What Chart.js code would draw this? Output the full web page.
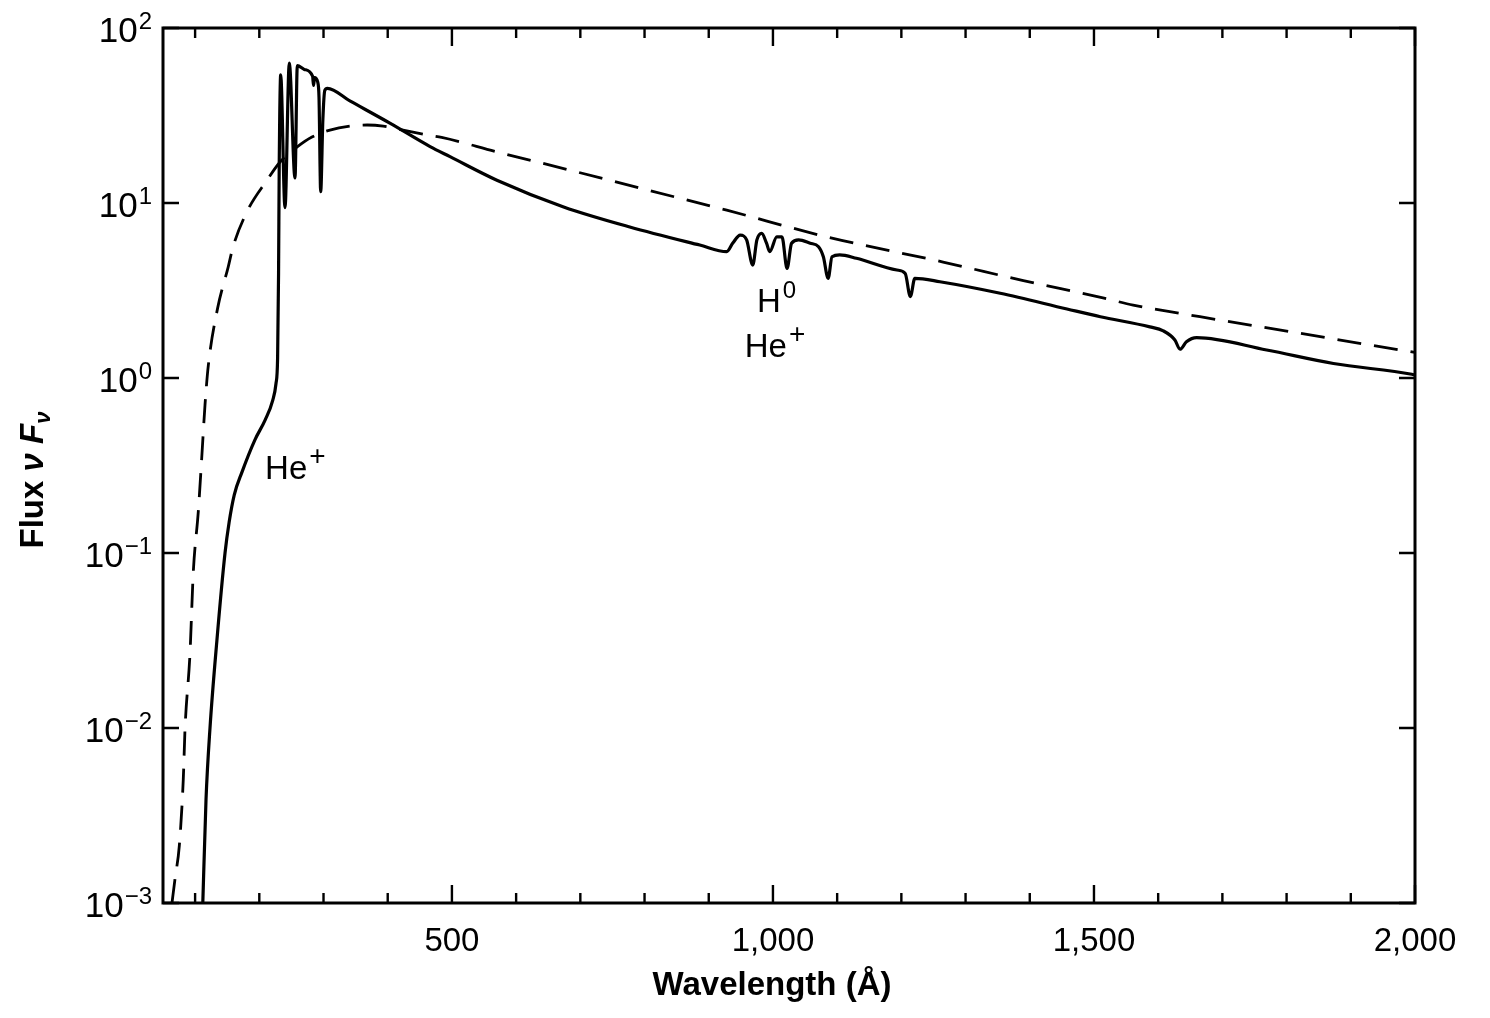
<!DOCTYPE html>
<html>
<head>
<meta charset="utf-8">
<script src="https://cdn.jsdelivr.net/npm/chart.js@4.4.0/dist/chart.umd.min.js"></script>
<style>
  html, body { margin: 0; padding: 0; background: #fff; }
  canvas { display: block; }
</style>
</head>
<body>
<canvas id="fluxChart" width="1490" height="1018"></canvas>
<script>
// emergent spectrum (solid)
const solidWavelength = [112, 117, 123.2, 134, 146.6, 153, 161, 173, 193, 209, 221, 226, 228.5, 230, 231, 233.3, 240, 246.7,
  255.6, 259.2, 270, 283, 284.5, 286, 291, 293, 295.6, 299, 302, 306, 341, 404, 466, 497, 570, 674, 777, 886, 928,
  937.5, 949, 959, 968.5, 975, 982.5, 990, 995, 1006, 1014, 1022, 1029, 1040, 1058, 1071, 1078.5, 1086, 1092, 1104,
  1130, 1193, 1206, 1214, 1221, 1260, 1354, 1458, 1510, 1587, 1608, 1626, 1634, 1644, 1660, 1769, 1873, 1995, 2000];
const solidFlux = [0.001, 0.0039, 0.01, 0.0318, 0.1, 0.15, 0.215, 0.29, 0.442, 0.575, 0.748, 0.93, 1.3, 4, 16, 54, 9.4, 63,
  13.9, 61, 58, 53, 47, 52, 49, 40, 11.6, 30, 44, 45.2, 38.3, 28.5, 21.0, 18.4, 13.5, 9.5, 7.3, 5.75, 5.27,
  5.9, 6.56, 6.15, 4.42, 6.15, 6.71, 5.89, 5.27, 6.41, 6.41, 4.23, 5.89, 6.15, 5.89, 5.63, 4.93, 3.71, 4.93, 5.05,
  4.83, 4.14, 3.96, 2.92, 3.71, 3.55, 3.05, 2.48, 2.24, 1.96, 1.86, 1.65, 1.46, 1.61, 1.70, 1.445, 1.21, 1.05, 1.04];

// blackbody (dashed)
const dashedWavelength = [64, 69, 75.4, 81.6, 84.3, 92, 97.2, 105, 110.3, 115.4, 120.6, 135, 151.7, 159, 182, 212, 232, 259,
  282, 310, 341, 368, 393, 424, 461, 484, 570, 684, 803, 928, 1084, 1265, 1390, 1514, 1561, 1665, 1821, 1977, 2000];
const dashedFlux = [0.001, 0.0014, 0.00212, 0.0051, 0.0099, 0.0265, 0.078, 0.173, 0.348, 0.70, 1.18, 2.5, 4.33, 5.6, 9.1, 13.5, 17.1, 20.9,
  23.8, 26.1, 27.5, 27.9, 27.5, 26.1, 24.5, 23.7, 19.6, 15.4, 11.9, 9.1, 6.4, 4.6, 3.6, 2.87, 2.61, 2.24, 1.80, 1.445, 1.40];

const xTicks = [100, 200, 300, 400, 500, 600, 700, 800, 900, 1000, 1100, 1200, 1300, 1400, 1500, 1600, 1700, 1800, 1900, 2000];
const xTickLabels = { 500: '500', 1000: '1,000', 1500: '1,500', 2000: '2,000' };
const yTicks = [0.001, 0.01, 0.1, 1, 10, 100];
const yTickExponents = ['\u22123', '\u22122', '\u22121', '0', '1', '2'];

// text labels on the plot: [wavelength, flux, base, superscript]
const annotations = [
  [209, 0.31, 'He', '+'],
  [975, 2.79, 'H', '0'],
  [956, 1.55, 'He', '+'],
];

const FONT = '"Liberation Sans", Arial, Helvetica, sans-serif';

const toPoints = (xs, ys) => xs.map((x, i) => ({ x: x, y: ys[i] }));

// frame, inward ticks, log labels with superscripts, titles, annotations
const decorations = {
  id: 'decorations',
  afterDraw(chart) {
    const { ctx, chartArea: a, scales: { x, y } } = chart;
    ctx.save();
    ctx.strokeStyle = '#000';
    ctx.fillStyle = '#000';

    ctx.lineWidth = 3;
    ctx.strokeRect(a.left, a.top, a.right - a.left, a.bottom - a.top);

    ctx.lineWidth = 2.4;
    ctx.beginPath();
    xTicks.forEach(v => {
      const px = x.getPixelForValue(v);
      const len = v % 500 === 0 ? 18 : 10;
      ctx.moveTo(px, a.bottom); ctx.lineTo(px, a.bottom - len);
      ctx.moveTo(px, a.top); ctx.lineTo(px, a.top + len);
    });
    yTicks.forEach(v => {
      const py = y.getPixelForValue(v);
      ctx.moveTo(a.left, py); ctx.lineTo(a.left + 16, py);
      ctx.moveTo(a.right, py); ctx.lineTo(a.right - 16, py);
    });
    ctx.stroke();

    // y tick labels 10^n
    ctx.textBaseline = 'alphabetic';
    ctx.textAlign = 'left';
    yTicks.forEach((v, i) => {
      const py = y.getPixelForValue(v);
      ctx.font = '24px ' + FONT;
      const ew = ctx.measureText(yTickExponents[i]).width;
      ctx.font = '35px ' + FONT;
      const bw = ctx.measureText('10').width;
      const right = 152;
      ctx.fillText('10', right - ew - bw - 1, py + 14);
      ctx.font = '24px ' + FONT;
      ctx.fillText(yTickExponents[i], right - ew, py + 1);
    });

    // x axis title
    ctx.font = 'bold 33px ' + FONT;
    ctx.textAlign = 'center';
    ctx.fillText('Wavelength (\u00c5)', 772, 995);
    ctx.textAlign = 'left';

    // y axis title
    const parts = [
      ['Flux ', 'bold 33px ' + FONT, 0],
      ['\u03bd', 'italic bold 33px ' + FONT, 0],
      [' ', 'bold 33px ' + FONT, 0],
      ['F', 'italic bold 33px ' + FONT, 0],
      ['\u03bd', 'italic bold 22px ' + FONT, 7],
    ];
    let total = 0;
    parts.forEach(p => { ctx.font = p[1]; total += ctx.measureText(p[0]).width; });
    ctx.translate(31, 480);
    ctx.rotate(-Math.PI / 2);
    let cx = -total / 2;
    parts.forEach(p => {
      ctx.font = p[1];
      ctx.fillText(p[0], cx, 12 + p[2]);
      cx += ctx.measureText(p[0]).width;
    });
    ctx.setTransform(1, 0, 0, 1, 0, 0);

    // He+ / H0 labels
    annotations.forEach(([wl, f, base, sup]) => {
      const px = x.getPixelForValue(wl);
      const py = y.getPixelForValue(f);
      ctx.font = '33px ' + FONT;
      ctx.fillText(base, px, py + 12);
      const w = ctx.measureText(base).width;
      ctx.font = (sup === '+' ? '28px ' : '24px ') + FONT;
      ctx.fillText(sup, px + w + 2, py - 2);
    });
    ctx.restore();
  }
};

const ctx = document.getElementById('fluxChart').getContext('2d');
new Chart(ctx, {
  type: 'scatter',
  data: {
    datasets: [
      {
        label: 'Emergent flux',
        data: toPoints(solidWavelength, solidFlux),
        showLine: true,
        borderColor: '#000',
        borderWidth: 3.2,
        pointRadius: 0,
        cubicInterpolationMode: 'monotone',
      },
      {
        label: 'Blackbody',
        data: toPoints(dashedWavelength, dashedFlux),
        showLine: true,
        borderColor: '#000',
        borderWidth: 2.8,
        borderDash: [24, 13],
        pointRadius: 0,
        cubicInterpolationMode: 'monotone',
      },
    ],
  },
  options: {
    responsive: false,
    animation: false,
    layout: { padding: { left: 0, right: 75, top: 28, bottom: 0 } },
    plugins: {
      legend: { display: false },
      tooltip: { enabled: false },
    },
    scales: {
      x: {
        type: 'linear',
        min: 50,
        max: 2000,
        afterBuildTicks: s => { s.ticks = xTicks.map(v => ({ value: v })); },
        afterFit: s => { s.height = 115; },
        grid: { display: false, drawTicks: false },
        border: { display: false },
        ticks: {
          autoSkip: false,
          maxRotation: 0,
          padding: 19,
          color: '#000',
          font: { family: FONT, size: 33 },
          callback: v => xTickLabels[v] || '',
        },
      },
      y: {
        type: 'logarithmic',
        min: 0.001,
        max: 100,
        afterBuildTicks: s => { s.ticks = yTicks.map(v => ({ value: v })); },
        afterFit: s => { s.width = 163; },
        grid: { display: false, drawTicks: false },
        border: { display: false },
        ticks: { display: false },
      },
    },
  },
  plugins: [decorations],
});
</script>
</body>
</html>
